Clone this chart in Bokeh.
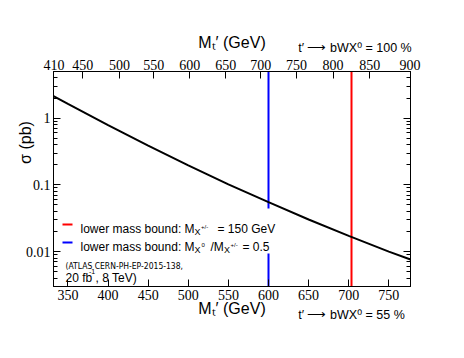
import numpy as np
from bokeh.plotting import figure
from bokeh.models import Range1d, LinearAxis, LogAxis, FixedTicker, Label, BoxAnnotation
from bokeh.embed import file_html
from bokeh.resources import INLINE

# ---------------- data ----------------
mass = [332, 350, 400, 450, 500, 550, 600, 650, 700, 750, 777]
sigma = [2.14, 1.63, 0.783, 0.387, 0.196, 0.102, 0.055, 0.0303, 0.0172, 0.0100, 0.0076]

bound_blue = [600]   # M_X0 / M_X+- = 0.5
bound_red = [703]    # M_X+- = 150 GeV

bottom_ticks = [350, 400, 450, 500, 550, 600, 650, 700, 750]
top_tick_labels = [410, 450, 500, 550, 600, 650, 700, 750, 800, 850, 900]
top_tick_positions = [332.5, 368.6, 414.3, 457.1, 501.7, 546.6, 590.2, 634.8, 680.4, 726.2, 776.5]

y_major = [0.01, 0.1, 1]
y_major_labels = ["0.01", "0.1", "1"]
y_minor = [0.003, 0.004, 0.005, 0.006, 0.007, 0.008, 0.009,
           0.02, 0.03, 0.04, 0.05, 0.06, 0.07, 0.08, 0.09,
           0.2, 0.3, 0.4, 0.5, 0.6, 0.7, 0.8, 0.9,
           2, 3, 4, 5]

x_title = "Mₜ′ (GeV)"
note_top = "t′ ⟶ bWX⁰ = 100 %"
note_bottom = "t′ ⟶ bWX⁰ = 55 %"
y_title = "σ (pb)"

# ---------------- figure ----------------
p = figure(width=456, height=350, x_range=Range1d(332, 777), y_range=Range1d(0.003, 5),
           y_axis_type="log", output_backend="svg", toolbar_location=None,
           min_border_left=53, min_border_right=46, min_border_top=71, min_border_bottom=64)
p.grid.visible = False
p.outline_line_color = "black"
p.outline_line_width = 1
p.background_fill_color = "white"
p.border_fill_color = "white"

TICKFONT = "Liberation Serif"
SANS = "Liberation Sans"

def style_axis(ax, standoff=3):
    ax.axis_line_color = "black"
    ax.major_tick_line_color = "black"
    ax.minor_tick_line_color = "black"
    ax.major_tick_in = 7
    ax.major_tick_out = 0
    ax.minor_tick_in = 4
    ax.minor_tick_out = 0
    ax.major_label_text_font = TICKFONT
    ax.major_label_text_font_size = "14px"
    ax.major_label_text_color = "black"
    ax.major_label_standoff = standoff
    ax.axis_label_text_font = SANS
    ax.axis_label_text_font_size = "16px"
    ax.axis_label_text_font_style = "normal"
    ax.axis_label_text_color = "black"

xb = p.xaxis[0]
xb.ticker = FixedTicker(ticks=bottom_ticks, minor_ticks=[])
style_axis(xb, 3)
xb.axis_label = x_title
xb.axis_label_standoff = -3

yl = p.yaxis[0]
yl.ticker = FixedTicker(ticks=y_major, minor_ticks=y_minor)
yl.major_label_overrides = {v: s for v, s in zip(y_major, y_major_labels)}
style_axis(yl, 3)

xt = LinearAxis(ticker=FixedTicker(ticks=top_tick_positions, minor_ticks=[]))
xt.major_label_overrides = {v: str(s) for v, s in zip(top_tick_positions, top_tick_labels)}
style_axis(xt, 2)
xt.axis_label = x_title
xt.axis_label_standoff = 6
p.add_layout(xt, "above")

yr = LogAxis(ticker=FixedTicker(ticks=y_major, minor_ticks=y_minor))
style_axis(yr, 0)
yr.major_label_overrides = {v: "" for v in y_major}
p.add_layout(yr, "right")

# ---------------- glyphs ----------------
p.vspan(x=bound_blue, line_color="#0000ff", line_width=2)
p.vspan(x=bound_red, line_color="#ff0000", line_width=2)
p.line(mass, sigma, line_color="black", line_width=2)

# ---------------- annotations (page coordinates -> frame screen units) ----------------
FX0, FY0 = 53, 286

def box(l, r, t, b, color):
    p.add_layout(BoxAnnotation(left=l - FX0, right=r - FX0, top=FY0 - t, bottom=FY0 - b,
                               left_units="screen", right_units="screen",
                               top_units="screen", bottom_units="screen",
                               fill_color=color, fill_alpha=1.0, line_alpha=0))

def lab(text, px, py, size, font=SANS, **kw):
    p.add_layout(Label(x=px - FX0, y=FY0 - py, x_units="screen", y_units="screen",
                       text=text, text_font=font, text_font_size=f"{size}px",
                       text_color="black", text_baseline=kw.pop("baseline", "alphabetic"),
                       text_align=kw.pop("align", "left"), **kw))

def side_lab(side, text, x, y, size, **kw):
    p.add_layout(Label(x=x, y=y, x_units="screen", y_units="screen",
                       text=text, text_font=SANS, text_font_size=f"{size}px",
                       text_color="black", text_baseline=kw.pop("baseline", "alphabetic"),
                       text_align=kw.pop("align", "left"), **kw), side)

# legend white box
box(61, 279, 208, 253, "white")
box(62, 72, 223, 225, "#ff0000")
box(62, 72, 241, 243, "#0000ff")

# legend line 1
lab("lower mass bound: M", 80, 228, 12)
lab("X", 194, 231, 9)
lab("+/-", 200.5, 226, 6)
lab("= 150 GeV", 217, 228, 12)
# legend line 2
lab("lower mass bound: M", 80, 246, 12)
lab("X", 194, 249, 9)
lab("0", 201, 244, 6)
lab("/M", 210, 246, 12)
lab("X", 223.5, 249, 9)
lab("+/-", 230, 244, 6)
lab("= 0.5", 242, 246, 12)

# reference text
lab("(ATLAS CERN-PH-EP-2015-138,", 65, 265, 8.5, font="DejaVu Sans Condensed")
lab("20 fb", 65, 277.5, 12)
lab("-1", 88.5, 271, 7)
lab(", 8 TeV)", 95, 277.5, 12)

# side-panel texts
side_lab("above", note_top, 297.7 - FX0, -17.7, 12.5)
side_lab("below", note_bottom, 297.7 - FX0, 19, 12.5)
side_lab("left", y_title, 20, FY0 - 142, 16, angle=np.pi / 2, align="center", baseline="middle")

open("out.html", "w").write(file_html(p, INLINE))
